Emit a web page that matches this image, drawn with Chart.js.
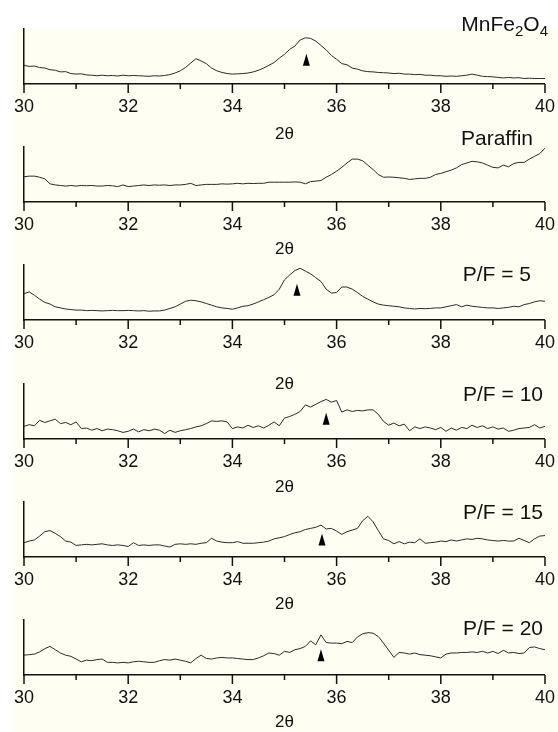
<!DOCTYPE html>
<html>
<head>
<meta charset="utf-8">
<script src="https://cdn.jsdelivr.net/npm/chart.js@4.4.1/dist/chart.umd.min.js"></script>
<style>
  html, body { margin: 0; padding: 0; background: #fff; }
  #wrap { position: relative; width: 558px; height: 732px; overflow: hidden; }
  #cream { position: absolute; left: 15px; top: 28px; right: 0; bottom: 0; background: #fefef2; }
  canvas { position: absolute; left: 0; }
  .lbl { position: absolute; font-family: "Liberation Sans", Arial, sans-serif; font-size: 21px; color: #111; line-height: 1; white-space: nowrap; }
  .lbl sub { font-size: 15px; vertical-align: -5px; line-height: 0; }
</style>
</head>
<body>
<div id="wrap">
  <div id="cream"></div>
</div>
<script>
// 2θ grid, 0.1 deg steps
const twoTheta = [
  30.0, 30.1, 30.2, 30.3, 30.4, 30.5, 30.6, 30.7, 30.8, 30.9,
  31.0, 31.1, 31.2, 31.3, 31.4, 31.5, 31.6, 31.7, 31.8, 31.9,
  32.0, 32.1, 32.2, 32.3, 32.4, 32.5, 32.6, 32.7, 32.8, 32.9,
  33.0, 33.1, 33.2, 33.3, 33.4, 33.5, 33.6, 33.7, 33.8, 33.9,
  34.0, 34.1, 34.2, 34.3, 34.4, 34.5, 34.6, 34.7, 34.8, 34.9,
  35.0, 35.1, 35.2, 35.3, 35.4, 35.5, 35.6, 35.7, 35.8, 35.9,
  36.0, 36.1, 36.2, 36.3, 36.4, 36.5, 36.6, 36.7, 36.8, 36.9,
  37.0, 37.1, 37.2, 37.3, 37.4, 37.5, 37.6, 37.7, 37.8, 37.9,
  38.0, 38.1, 38.2, 38.3, 38.4, 38.5, 38.6, 38.7, 38.8, 38.9,
  39.0, 39.1, 39.2, 39.3, 39.4, 39.5, 39.6, 39.7, 39.8, 39.9,
  40.0
];

// intensities (arbitrary units, 0 = axis, 100 = top of panel)
const mnFe2O4 = [
  34, 32, 32.5, 30, 29, 26, 25, 22, 22.5, 19,
  18, 18.5, 16.5, 16, 15, 16, 15, 15.5, 14.5, 16,
  15, 15.5, 15, 14.5, 14, 15, 14.5, 15.5, 17, 20,
  24, 30, 38, 46, 42, 37, 29, 24, 21, 19,
  18, 18.5, 19, 20, 22, 25, 29, 34, 39, 47,
  54, 63, 69, 80, 84, 83, 78, 70, 62, 52,
  45, 37, 35, 29, 27, 24, 22.5, 22, 21, 20.5,
  20, 19, 19.5, 18, 18, 17, 17.5, 16, 16, 15,
  15, 14, 14.5, 14, 15, 16, 18, 16, 14, 13.5,
  13, 12, 11, 12, 11, 11.5, 10, 10.5, 10, 10,
  10
];
const paraffin = [
  46, 47, 47, 45, 42, 33, 31, 30, 29, 30,
  29, 30, 29.5, 30, 29, 29, 30, 29.5, 28, 31,
  28, 29, 30, 31, 30, 31, 30.5, 31, 30, 31,
  31, 32, 34, 30, 31, 32, 32, 32, 33, 32.5,
  33, 34, 33, 34, 33.5, 34, 34, 36, 36, 36,
  36, 36, 36.5, 36, 33, 37, 38, 39, 45, 50,
  56, 63, 71, 78, 78, 75, 67, 59, 50, 45,
  45.5, 45, 44, 43, 41, 42, 43, 43, 45, 50,
  52, 55, 58, 62, 68, 71, 74, 73, 71, 67,
  63, 62, 67, 64, 70, 72, 72, 78, 83, 88,
  98
];
const pf5 = [
  48, 51, 45, 38, 32, 29, 24, 22, 20, 19,
  18, 18, 17, 17.5, 17, 16.5, 17, 17.5, 17, 17,
  17.5, 17, 16.5, 17, 16, 16.5, 16.5, 18, 21, 24,
  29, 34, 36, 35, 33, 30, 27, 24, 22, 21,
  19.5, 22, 25, 26, 29, 33, 37, 41, 46, 56,
  73, 82, 90, 94, 89, 84, 77, 70, 56, 49,
  50, 60, 60, 56, 50, 43, 38, 33, 29, 27,
  26, 25, 24, 22, 21, 20, 21, 20.5, 21, 22,
  22, 24, 26, 28, 24, 27, 25, 24, 23, 22,
  22, 21, 22, 23, 25, 24, 28, 30, 33, 35,
  34
];
const pf10 = [
  23, 26, 24, 34, 30, 33, 36, 28, 30, 26,
  31, 19, 20, 16, 19, 15, 18, 17, 15, 12,
  14, 18, 13, 17, 15, 18, 16, 10, 16, 12,
  15, 17, 19, 22, 24, 28, 33, 32, 33, 31,
  19, 22, 20, 25, 21, 24, 20, 25, 31, 24,
  38, 41, 45, 50, 62, 58, 63, 68, 72, 67,
  70, 49, 53, 50, 52, 51, 53, 53, 45, 32,
  25, 29, 24, 27, 15, 22, 19, 22, 20, 17,
  21, 14, 20, 16, 21, 19, 25, 21, 24, 19,
  22, 18, 20, 14, 16, 19, 20, 21, 26, 20,
  23
];
const pf15 = [
  26, 29, 31, 38, 46, 48, 43, 37, 29, 27,
  21, 22, 23, 22, 23, 24, 22, 21, 22, 21,
  19, 26, 21, 22, 21, 22, 22, 20, 18, 23,
  24, 23, 24, 23, 25, 26, 34, 29, 27, 26,
  26, 28, 25, 25, 25, 26, 27, 29, 33, 35,
  37, 41, 44, 46, 50, 52, 54, 58, 51, 52,
  47, 41, 46, 49, 52, 66, 74, 64, 48, 33,
  30, 24, 28, 24, 27, 26, 33, 25, 26, 27,
  29, 28, 31, 29, 31, 33, 32, 34, 33, 31,
  30, 29, 30, 29, 29, 34, 30, 26, 33, 38,
  39
];
const pf20 = [
  36, 37, 38, 42, 48, 52, 46, 40, 36, 34,
  29, 24, 27, 26, 28, 29, 23, 23, 22, 23,
  22, 24, 25, 24, 23, 23, 26, 28, 27, 29,
  27, 25, 22, 30, 36, 30, 29, 31, 32, 31,
  31, 30, 29, 28, 28, 31, 35, 40, 39, 36,
  43, 41, 46, 48, 52, 62, 55, 73, 59, 58,
  58, 57, 61, 59, 69, 75, 77, 76, 70, 58,
  45, 32, 41, 40, 38, 40, 37, 36, 35, 33,
  31, 38, 40, 40, 41, 41, 42, 41, 43, 40,
  43, 39, 45, 40, 41, 39, 40, 50, 51, 48,
  46
];

const series = [mnFe2O4, paraffin, pf5, pf10, pf15, pf20];
// peak markers (position of triangle base); null = none
const markerX = [35.42, null, 35.24, 35.8, 35.72, 35.7];
const markerY = [33, null, 44, 26, 21, 25];
const axisMin = 30, axisMax = 40;

// layout (pixels)
const panelTop = [29, 147, 265, 384, 502, 620];
const panelAxis = [84, 202, 320, 439, 557, 675];
const titleGap = [51, 48, 65, 49, 48, 48];
const labels = [
  { html: "MnFe<sub>2</sub>O<sub>4</sub>", right: 10, top: 13 },
  { html: "Paraffin", right: 25, top: 127 },
  { html: "P/F = 5", right: 27, top: 263 },
  { html: "P/F = 10", right: 15, top: 383 },
  { html: "P/F = 15", right: 15, top: 501 },
  { html: "P/F = 20", right: 15, top: 617 },
];

Chart.defaults.font.family = "'Liberation Sans', Arial, sans-serif";
Chart.defaults.color = "#111";

// major ticks at even degrees, minor at odd ones, all pointing down
const xTicks = {
  id: "xTicks",
  afterDraw(chart) {
    const sx = chart.scales.x;
    const ctx = chart.ctx;
    const y0 = chart.chartArea.bottom;
    ctx.save();
    ctx.strokeStyle = "#111";
    ctx.lineWidth = 1.5;
    sx.ticks.forEach((t) => {
      const px = sx.getPixelForValue(t.value);
      const len = t.value % 2 === 0 ? 9 : 5;
      ctx.beginPath();
      ctx.moveTo(px, y0);
      ctx.lineTo(px, y0 + len);
      ctx.stroke();
    });
    ctx.restore();
  },
};

// narrow filled triangle marking the peak
const peakMarker = {
  id: "peakMarker",
  afterDatasetsDraw(chart, args, opts) {
    if (opts.x == null) return;
    const px = chart.scales.x.getPixelForValue(opts.x);
    const py = chart.scales.y.getPixelForValue(opts.y);
    const ctx = chart.ctx;
    ctx.save();
    ctx.fillStyle = "#000";
    ctx.beginPath();
    ctx.moveTo(px - 3.5, py);
    ctx.lineTo(px + 3.5, py);
    ctx.lineTo(px, py - 12);
    ctx.closePath();
    ctx.fill();
    ctx.restore();
  },
};

const wrap = document.getElementById("wrap");
const PAD_TOP = 4;
const X_AXIS_H = 72;

series.forEach((values, i) => {
  const canvas = document.createElement("canvas");
  const plotH = panelAxis[i] - panelTop[i];
  const h = PAD_TOP + plotH + X_AXIS_H;
  canvas.width = 558;
  canvas.height = h;
  canvas.style.width = "558px";
  canvas.style.height = h + "px";
  canvas.style.top = panelTop[i] - PAD_TOP + "px";
  wrap.appendChild(canvas);

  const lbl = document.createElement("div");
  lbl.className = "lbl";
  lbl.innerHTML = labels[i].html;
  lbl.style.right = labels[i].right + "px";
  lbl.style.top = labels[i].top + "px";
  wrap.appendChild(lbl);

  new Chart(canvas, {
    type: "line",
    data: {
      datasets: [
        {
          data: twoTheta.map((x, k) => ({ x, y: values[k] })),
          borderColor: "#2a2a2a",
          borderWidth: 1,
          pointRadius: 0,
          tension: 0,
          fill: false,
        },
      ],
    },
    options: {
      responsive: false,
      animation: false,
      events: [],
      layout: { padding: { top: PAD_TOP, left: 0, right: 12, bottom: 0 } },
      plugins: {
        legend: { display: false },
        tooltip: { enabled: false },
        peakMarker: { x: markerX[i], y: markerY[i] },
      },
      scales: {
        x: {
          type: "linear",
          min: axisMin,
          max: axisMax,
          afterFit: (s) => { s.height = X_AXIS_H; },
          border: { display: true, color: "#111", width: 1.5 },
          grid: { display: true, drawOnChartArea: false, drawTicks: true, tickLength: 9, color: "transparent" },
          ticks: {
            stepSize: 1,
            autoSkip: false,
            maxRotation: 0,
            padding: 3,
            font: { size: 18 },
            color: "#111",
            callback: (v) => (v % 2 === 0 ? String(v) : ""),
          },
          title: {
            display: true,
            text: "2θ",
            font: { size: 17 },
            color: "#111",
            padding: { top: 0, bottom: X_AXIS_H - titleGap[i] - 10 },
          },
        },
        y: {
          min: 0,
          max: 100,
          afterFit: (s) => { s.width = 24; },
          border: { display: true, color: "#111", width: 1.5 },
          grid: { display: false },
          ticks: { display: false },
        },
      },
    },
    plugins: [xTicks, peakMarker],
  });
});
</script>
</body>
</html>
